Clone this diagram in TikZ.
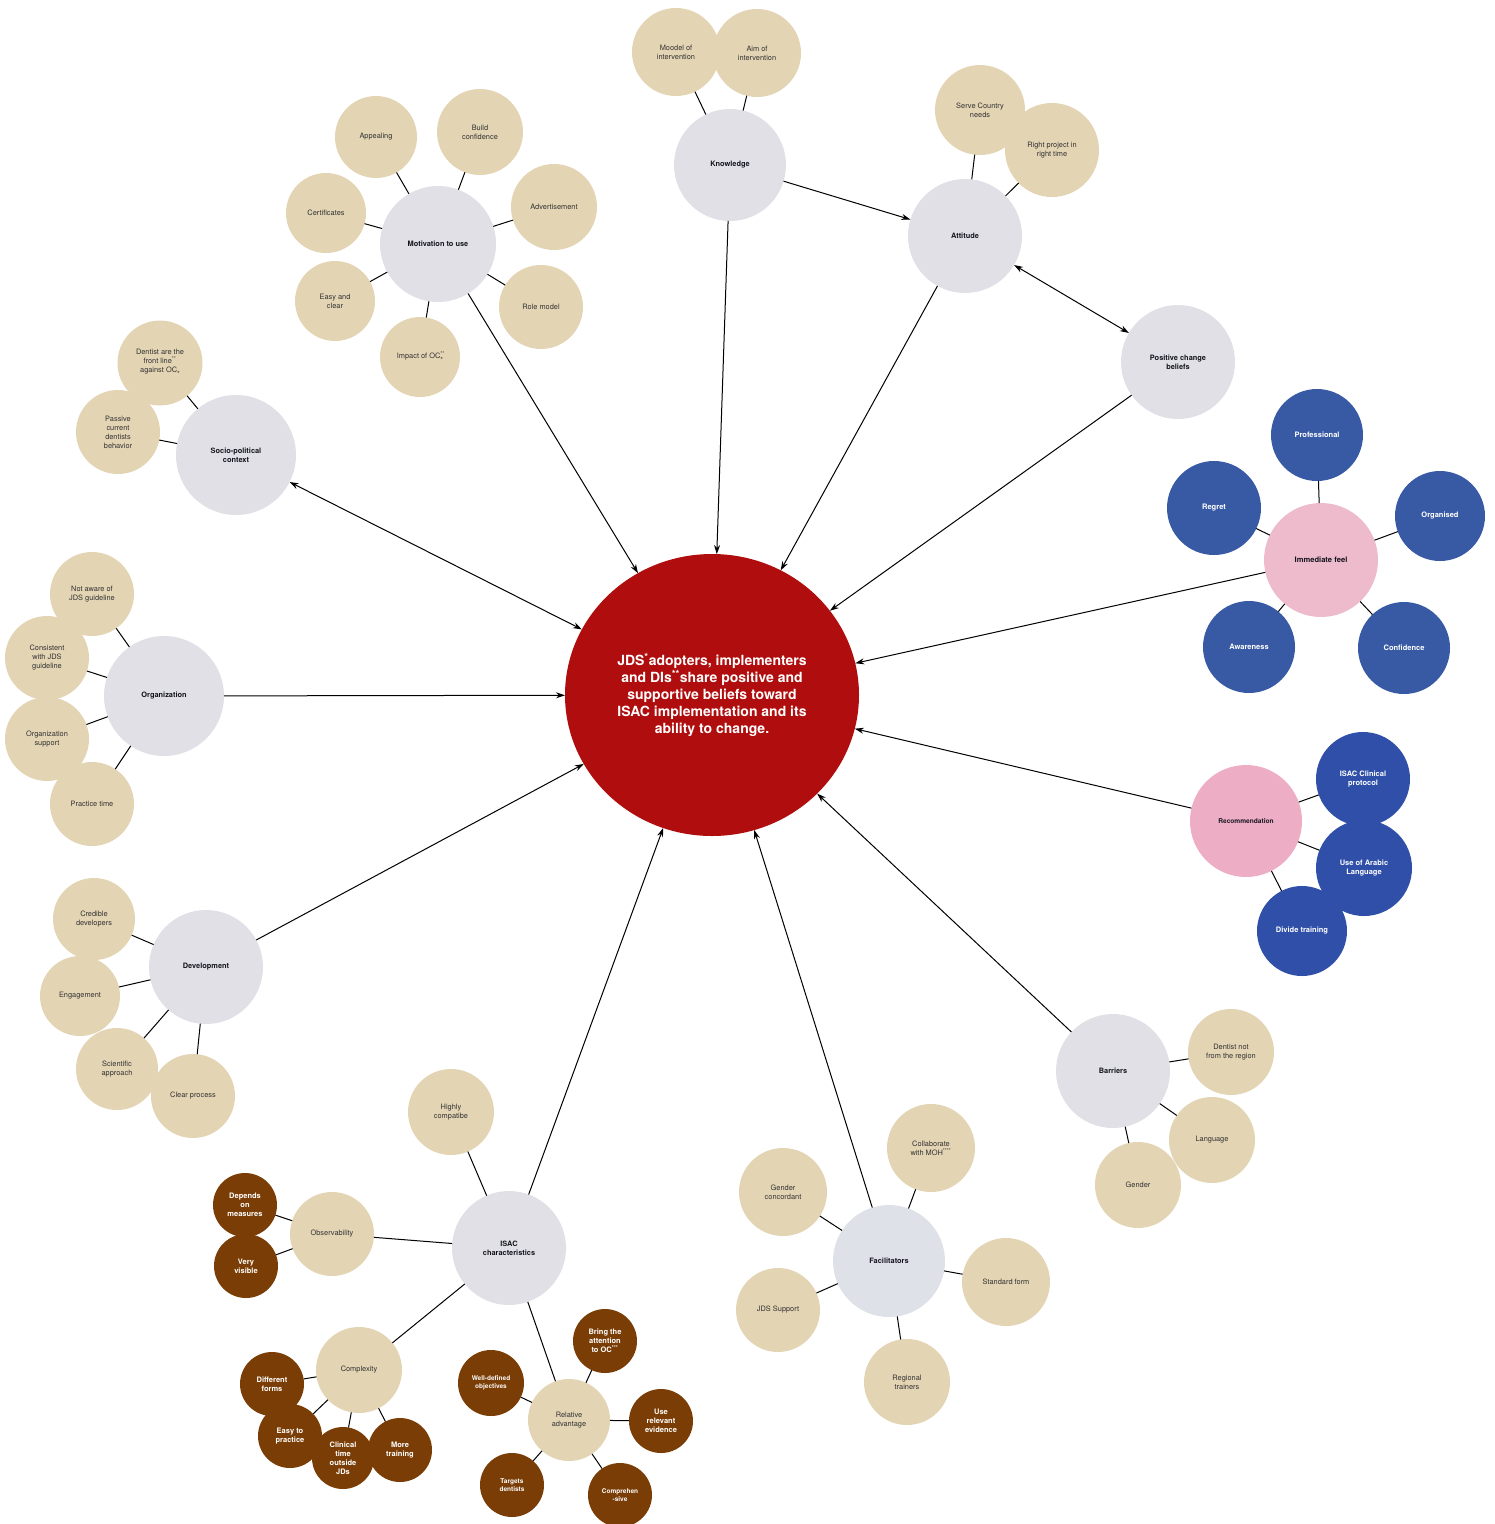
\documentclass[tikz,border=0pt]{standalone}
\usepackage{fontspec}
\setmainfont{TeX Gyre Heros}
\usetikzlibrary{arrows.meta, shapes.geometric}
\definecolor{goalcol}{HTML}{B00E0E}
\definecolor{hubcol}{HTML}{E0E0E6}
\definecolor{faccol}{HTML}{DEE1E7}
\definecolor{leafcol}{HTML}{E3D4B4}
\definecolor{browncol}{HTML}{7A3D06}
\definecolor{bluecol}{HTML}{385AA4}
\definecolor{deepbluecol}{HTML}{2F4FA8}
\definecolor{pinkcol}{HTML}{EEBBCC}
\definecolor{rosecol}{HTML}{EDADC4}
\definecolor{leaftext}{HTML}{333333}
\definecolor{hubtext}{HTML}{15151F}
\tikzset{
    my-goal/.style={
        ellipse, fill=goalcol, minimum width=294pt, minimum height=282pt,
        inner sep=0pt, outer sep=0pt, align=center, text=white,
        font=\fontsize{14}{17}\selectfont\bfseries
    },
    my-hub/.style={
        circle, fill=hubcol, minimum size=#1, inner sep=0pt, outer sep=0pt,
        align=center, text=hubtext, font=\fontsize{7.4}{9}\selectfont\bfseries
    },
    my-leaf/.style={
        circle, fill=leafcol, minimum size=#1, inner sep=0pt, outer sep=0pt,
        align=center, text=leaftext, font=\fontsize{7.4}{9}\selectfont
    },
    my-brown/.style={
        circle, fill=browncol, minimum size=#1, inner sep=0pt, outer sep=0pt,
        align=center, text=white, font=\fontsize{7.5}{9}\selectfont\bfseries
    },
    my-blue/.style={
        circle, fill=bluecol, minimum size=#1, inner sep=0pt, outer sep=0pt,
        align=center, text=white, font=\fontsize{7.5}{9}\selectfont\bfseries
    },
    my-pink/.style={
        circle, fill=pinkcol, minimum size=#1, inner sep=0pt, outer sep=0pt,
        align=center, text=hubtext, font=\fontsize{7.6}{9}\selectfont\bfseries
    },
    my-link/.style={line width=1pt},
    my-arrow/.style={line width=1pt, -{Stealth[length=9pt, width=6pt]}},
    my-twoway/.style={line width=1pt, {Stealth[length=9pt, width=6pt]}-{Stealth[length=9pt, width=6pt]}},
}
\begin{document}
\begin{tikzpicture}[x=1pt, y=-1pt]
        \useasboundingbox (0,0) rectangle (1495,1524);

        % CENTRE
        \node[my-goal] (GOAL) at (712,695) {JDS\textsuperscript{*}adopters, implementers\\and DIs\textsuperscript{**}share positive and\\supportive beliefs toward\\ISAC implementation and its\\ability to change.};

        % KNOWLEDGE
        \node[my-hub=112pt]  (KNOW)   at (730,165) {Knowledge};
        \node[my-leaf=88pt]  (KMODEL) at (676,52)  {Moodel of\\intervention};
        \node[my-leaf=88pt]  (KAIM)   at (757,53)  {Aim of\\intervention};
        \draw[my-link] (KNOW) -- (KMODEL);
        \draw[my-link] (KNOW) -- (KAIM);

        % ATTITUDE
        \node[my-hub=114pt]  (ATT)    at (965,236) {Attitude};
        \node[my-leaf=90pt]  (ASERVE) at (980,110) {Serve Country\\needs};
        \node[my-leaf=94pt]  (ARIGHT) at (1052,150) {Right project in\\right time};
        \draw[my-link] (ATT) -- (ASERVE);
        \draw[my-link] (ATT) -- (ARIGHT);

        % POSITIVE CHANGE BELIEFS
        \node[my-hub=114pt]  (POS)    at (1178,362) {Positive change\\beliefs};

        % MOTIVATION TO USE
        \node[my-hub=116pt]  (MOT)     at (438,244) {Motivation to use};
        \node[my-leaf=82pt]  (MAPPEAL) at (376,137) {Appealing};
        \node[my-leaf=86pt]  (MBUILD)  at (480,132) {Build\\confidence};
        \node[my-leaf=80pt]  (MCERT)   at (326,213) {Certificates};
        \node[my-leaf=86pt]  (MADV)    at (554,207) {Advertisement};
        \node[my-leaf=80pt]  (MEASY)   at (335,301) {Easy and\\clear};
        \node[my-leaf=84pt]  (MROLE)   at (541,307) {Role model};
        \node[my-leaf=80pt]  (MIMPACT) at (420,357) {Impact of OC\rlap{\textsuperscript{**}}\raisebox{-4pt}{\scriptsize *}};
        \draw[my-link] (MOT) -- (MAPPEAL);
        \draw[my-link] (MOT) -- (MBUILD);
        \draw[my-link] (MOT) -- (MCERT);
        \draw[my-link] (MOT) -- (MADV);
        \draw[my-link] (MOT) -- (MEASY);
        \draw[my-link] (MOT) -- (MROLE);
        \draw[my-link] (MOT) -- (MIMPACT);

        % SOCIO-POLITICAL CONTEXT
        \node[my-hub=120pt]  (SOC)   at (236,455) {Socio-political\\context};
        \node[my-leaf=85pt]  (SDENT) at (160,363) {Dentist are the\\front line\textsuperscript{**}\\against OC\raisebox{-4pt}{\scriptsize *}};
        \node[my-leaf=84pt]  (SPASS) at (118,432) {Passive\\current\\dentists\\behavior};
        \draw[my-link] (SOC) -- (SDENT);
        \draw[my-link] (SOC) -- (SPASS);

        % ORGANIZATION
        \node[my-hub=120pt]  (ORG)   at (164,696) {Organization};
        \node[my-leaf=84pt]  (ONOT)  at (92,594)  {Not aware of\\JDS guideline};
        \node[my-leaf=84pt]  (OCONS) at (47,658)  {Consistent\\with JDS\\guideline};
        \node[my-leaf=84pt]  (OSUPP) at (47,739)  {Organization\\support};
        \node[my-leaf=84pt]  (OPRAC) at (92,804)  {Practice time};
        \draw[my-link] (ORG) -- (ONOT);
        \draw[my-link] (ORG) -- (OCONS);
        \draw[my-link] (ORG) -- (OSUPP);
        \draw[my-link] (ORG) -- (OPRAC);

        % DEVELOPMENT
        \node[my-hub=114pt]  (DEV)    at (206,967)  {Development};
        \node[my-leaf=82pt]  (DCRED)  at (94,919)   {Credible\\developers};
        \node[my-leaf=80pt]  (DENG)   at (80,996)   {Engagement};
        \node[my-leaf=82pt]  (DSCI)   at (117,1069) {Scientific\\approach};
        \node[my-leaf=84pt]  (DCLEAR) at (193,1096) {Clear process};
        \draw[my-link] (DEV) -- (DCRED);
        \draw[my-link] (DEV) -- (DENG);
        \draw[my-link] (DEV) -- (DSCI);
        \draw[my-link] (DEV) -- (DCLEAR);

        % ISAC CHARACTERISTICS
        \node[my-hub=114pt]  (ISAC)  at (509,1248) {ISAC\\characteristics};
        \node[my-leaf=86pt]  (IHIGH) at (451,1112) {Highly\\compatibe};
        \node[my-leaf=84pt]  (IOBS)  at (332,1234) {Observability};
        \node[my-leaf=86pt]  (ICOMP) at (359,1370) {Complexity};
        \node[my-leaf=82pt]  (IREL)  at (569,1420) {Relative\\advantage};
        \draw[my-link] (ISAC) -- (IHIGH);
        \draw[my-link] (ISAC) -- (IOBS);
        \draw[my-link] (ISAC) -- (ICOMP);
        \draw[my-link] (ISAC) -- (IREL);

        \node[my-brown=64pt] (IOBSDEP) at (245,1205) {Depends\\on\\measures};
        \node[my-brown=64pt] (IOBSVIS) at (246,1266) {Very\\visible};
        \draw[my-link] (IOBS) -- (IOBSDEP);
        \draw[my-link] (IOBS) -- (IOBSVIS);

        \node[my-brown=64pt] (ICOMPDIFF) at (272,1384) {Different\\forms};
        \node[my-brown=64pt] (ICOMPEASY) at (290,1436) {Easy to\\practice};
        \node[my-brown=62pt] (ICOMPCLIN) at (343,1458) {Clinical\\time\\outside\\JDs};
        \node[my-brown=64pt] (ICOMPMORE) at (400,1450) {More\\training};
        \draw[my-link] (ICOMP) -- (ICOMPDIFF);
        \draw[my-link] (ICOMP) -- (ICOMPEASY);
        \draw[my-link] (ICOMP) -- (ICOMPCLIN);
        \draw[my-link] (ICOMP) -- (ICOMPMORE);

        \node[my-brown=66pt, font=\fontsize{6.5}{8}\selectfont\bfseries] (IRELWELL) at (491,1383) {Well-defined\\objectives};
        \node[my-brown=64pt] (IRELBRING) at (605,1341) {Bring the\\attention\\to OC\textsuperscript{***}};
        \node[my-brown=64pt] (IRELUSE)   at (661,1421) {Use\\relevant\\evidence};
        \node[my-brown=64pt, font=\fontsize{6.5}{8}\selectfont\bfseries] (IRELTARG) at (512,1485) {Targets\\dentists};
        \node[my-brown=64pt, font=\fontsize{6.5}{8}\selectfont\bfseries] (IRELCOMP) at (620,1495) {Comprehen\\-sive};
        \draw[my-link] (IREL) -- (IRELWELL);
        \draw[my-link] (IREL) -- (IRELBRING);
        \draw[my-link] (IREL) -- (IRELUSE);
        \draw[my-link] (IREL) -- (IRELTARG);
        \draw[my-link] (IREL) -- (IRELCOMP);

        % FACILITATORS
        \node[my-hub=112pt, fill=faccol] (FAC) at (889,1261) {Facilitators};
        \node[my-leaf=88pt]  (FCOLL)  at (931,1148) {Collaborate\\with MOH\textsuperscript{****}};
        \node[my-leaf=88pt]  (FGEND)  at (783,1192) {Gender\\concordant};
        \node[my-leaf=84pt]  (FJDS)   at (778,1310) {JDS Support};
        \node[my-leaf=88pt]  (FSTAND) at (1006,1282) {Standard form};
        \node[my-leaf=86pt]  (FREG)   at (907,1382) {Regional\\trainers};
        \draw[my-link] (FAC) -- (FCOLL);
        \draw[my-link] (FAC) -- (FGEND);
        \draw[my-link] (FAC) -- (FJDS);
        \draw[my-link] (FAC) -- (FSTAND);
        \draw[my-link] (FAC) -- (FREG);

        % BARRIERS
        \node[my-hub=114pt]  (BAR)   at (1113,1071) {Barriers};
        \node[my-leaf=86pt]  (BDENT) at (1231,1052) {Dentist not\\from the region};
        \node[my-leaf=86pt]  (BLANG) at (1212,1140) {Language};
        \node[my-leaf=86pt]  (BGEND) at (1138,1185) {Gender};
        \draw[my-link] (BAR) -- (BDENT);
        \draw[my-link] (BAR) -- (BLANG);
        \draw[my-link] (BAR) -- (BGEND);

        % IMMEDIATE FEEL
        \node[my-pink=114pt] (FEEL)   at (1321,560) {Immediate feel};
        \node[my-blue=92pt]  (FEPROF) at (1317,435) {Professional};
        \node[my-blue=94pt]  (FEREG)  at (1214,508) {Regret};
        \node[my-blue=90pt]  (FEORG)  at (1440,516) {Organised};
        \node[my-blue=92pt]  (FEAWA)  at (1249,647) {Awareness};
        \node[my-blue=92pt]  (FECONF) at (1404,648) {Confidence};
        \draw[my-link] (FEEL) -- (FEPROF);
        \draw[my-link] (FEEL) -- (FEREG);
        \draw[my-link] (FEEL) -- (FEORG);
        \draw[my-link] (FEEL) -- (FEAWA);
        \draw[my-link] (FEEL) -- (FECONF);

        % RECOMMENDATION
        \node[my-pink=112pt, fill=rosecol, font=\fontsize{6.6}{8}\selectfont\bfseries] (REC) at (1246,821) {Recommendation};
        \node[my-blue=94pt, fill=deepbluecol] (RPROT) at (1363,779) {ISAC Clinical\\protocol};
        \node[my-blue=96pt, fill=deepbluecol] (RARAB) at (1364,868) {Use of Arabic\\Language};
        \node[my-blue=90pt, fill=deepbluecol] (RDIV)  at (1302,931) {Divide training};
        \draw[my-link] (REC) -- (RPROT);
        \draw[my-link] (REC) -- (RARAB);
        \draw[my-link] (REC) -- (RDIV);

        % ARROWS TO THE CENTRE
        \draw[my-arrow]  (KNOW) -- (ATT);
        \draw[my-twoway] (ATT)  -- (POS);
        \draw[my-arrow]  (KNOW) -- (GOAL);
        \draw[my-arrow]  (ATT)  -- (GOAL);
        \draw[my-arrow]  (POS)  -- (GOAL);
        \draw[my-arrow]  (MOT)  -- (GOAL);
        \draw[my-twoway] (SOC)  -- (GOAL);
        \draw[my-arrow]  (ORG)  -- (GOAL);
        \draw[my-arrow]  (DEV)  -- (GOAL);
        \draw[my-arrow]  (ISAC) -- (GOAL);
        \draw[my-arrow]  (FAC)  -- (GOAL);
        \draw[my-arrow]  (BAR)  -- (GOAL);
        \draw[my-arrow]  (FEEL) -- (GOAL);
        \draw[my-arrow]  (REC)  -- (GOAL);

\end{tikzpicture}
\end{document}
